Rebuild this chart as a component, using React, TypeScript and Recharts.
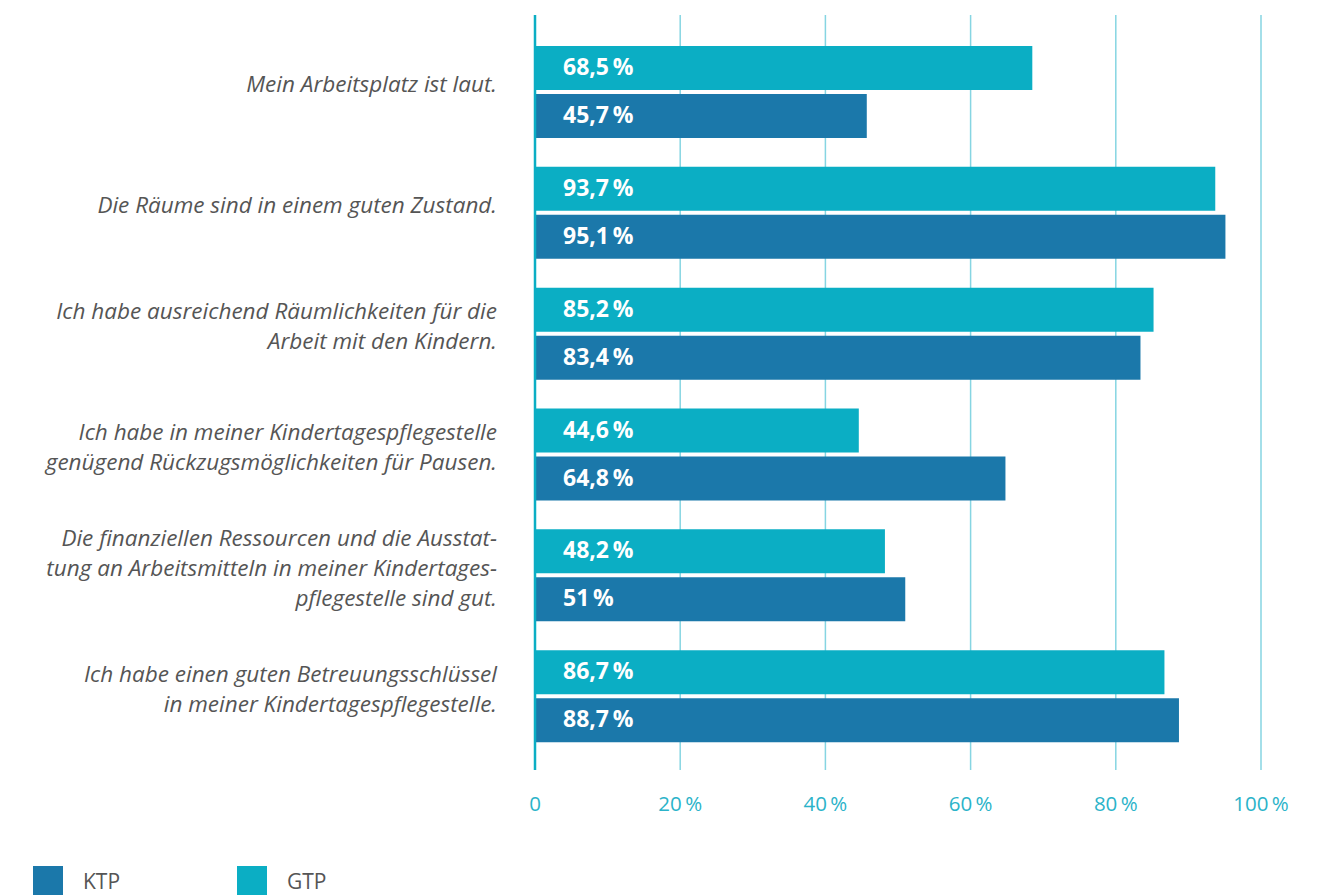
import React from 'react';
import { BarChart, Bar, XAxis, YAxis, CartesianGrid, Legend, LabelList } from 'recharts';

const categories: string[][] = [
  ['Mein Arbeitsplatz ist laut.'],
  ['Die Räume sind in einem guten Zustand.'],
  ['Ich habe ausreichend Räumlichkeiten für die', 'Arbeit mit den Kindern.'],
  ['Ich habe in meiner Kindertagespflegestelle', 'genügend Rückzugsmöglichkeiten für Pausen.'],
  ['Die finanziellen Ressourcen und die Ausstat-', 'tung an Arbeitsmitteln in meiner Kindertages-', 'pflegestelle sind gut.'],
  ['Ich habe einen guten Betreuungsschlüssel', 'in meiner Kindertagespflegestelle.'],
];
const gtpValues = [68.5, 93.7, 85.2, 44.6, 48.2, 86.7];
const ktpValues = [45.7, 95.1, 83.4, 64.8, 51, 88.7];
const xTicks = [0, 20, 40, 60, 80, 100];
const seriesNames = { ktp: 'KTP', gtp: 'GTP' };

const GTP_COLOR = '#0BAEC4';
const KTP_COLOR = '#1B78AA';
const GRID_COLOR = '#86D5E2';
const TEXT_GRAY = '#555555';

const data = categories.map((lines, i) => ({
  key: String(i),
  lines,
  gtp: gtpValues[i],
  ktp: ktpValues[i],
}));

const fmt = (v: number) => String(v).replace('.', ',') + '\u2009%';

const CategoryTick = (props: any) => {
  const { x, y, payload } = props;
  const lines: string[] = categories[Number(payload.value)] || [];
  const lh = 30;
  const startY = y - ((lines.length - 1) * lh) / 2 - 6;
  return (
    <text
      x={x}
      y={startY}
      textAnchor="end"
      fill={TEXT_GRAY}
      fontStyle="italic"
      fontSize={22.5}
      fontFamily="'Open Sans', sans-serif"
      dominantBaseline="middle"
    >
      {lines.map((l, i) => (
        <tspan key={i} x={x - 30} y={startY + i * lh}>
          {l}
        </tspan>
      ))}
    </text>
  );
};

const ValueTick = (props: any) => {
  const { x, payload } = props;
  const v = payload.value;
  return (
    <text
      x={x}
      y={806}
      textAnchor="middle"
      dominantBaseline="middle"
      fill="#2BB3C9"
      fontSize={20.5}
      fontFamily="'Open Sans', sans-serif"
    >
      {v === 0 ? '0' : v + '\u2009%'}
    </text>
  );
};

const BarLabel = (props: any) => {
  const { x, y, height, value } = props;
  return (
    <text
      x={x + 28}
      y={y + height / 2 + 1}
      fill="#ffffff"
      fontWeight="bold"
      fontSize={23}
      fontFamily="'Open Sans', sans-serif"
      dominantBaseline="middle"
    >
      {fmt(value)}
    </text>
  );
};

const LegendContent = () => {
  const items = [
    { name: seriesNames.ktp, color: KTP_COLOR },
    { name: seriesNames.gtp, color: GTP_COLOR },
  ];
  return (
    <div style={{ position: 'relative', height: 29, width: 400 }}>
      {items.map((it, i) => (
        <div
          key={it.name}
          style={{ position: 'absolute', left: 33 + i * 204, top: 0, display: 'flex', alignItems: 'flex-start' }}
        >
          <div style={{ width: 30, height: 30, background: it.color }} />
          <span
            style={{
              marginLeft: 20,
              fontSize: 21,
              color: TEXT_GRAY,
              fontFamily: "'Open Sans', sans-serif",
              lineHeight: '22px',
              marginTop: 4,
            }}
          >
            {it.name}
          </span>
        </div>
      ))}
    </div>
  );
};

export default function App() {
  return (
    <div style={{ position: 'absolute', left: 0, top: 0, width: 1323, height: 895, background: '#fff', overflow: 'hidden' }}>
      <BarChart
        width={1323}
        height={895}
        data={data}
        layout="vertical"
        margin={{ top: 15, right: 62, bottom: 75, left: 0 }}
        barSize={44}
        barGap={4}
      >
        <CartesianGrid horizontal={false} vertical={true} stroke={GRID_COLOR} strokeWidth={1.5} />
        <XAxis
          type="number"
          domain={[0, 100]}
          ticks={xTicks}
          axisLine={false}
          tickLine={false}
          tick={<ValueTick />}
          height={50}
          interval={0}
        />
        <YAxis
          type="category"
          dataKey="key"
          width={535}
          axisLine={{ stroke: GTP_COLOR, strokeWidth: 2.5 }}
          tickLine={false}
          tick={<CategoryTick />}
          padding={{ top: 17, bottom: 13 }}
          interval={0}
        />
        <Legend
          layout="horizontal"
          verticalAlign="middle"
          align="center"
          content={<LegendContent />}
          wrapperStyle={{ position: 'absolute', top: 866, left: 0, width: 400, height: 29 }}
        />
        <Bar dataKey="gtp" name={seriesNames.gtp} fill={GTP_COLOR} isAnimationActive={false}>
          <LabelList dataKey="gtp" content={<BarLabel />} />
        </Bar>
        <Bar dataKey="ktp" name={seriesNames.ktp} fill={KTP_COLOR} isAnimationActive={false}>
          <LabelList dataKey="ktp" content={<BarLabel />} />
        </Bar>
      </BarChart>
    </div>
  );
}
